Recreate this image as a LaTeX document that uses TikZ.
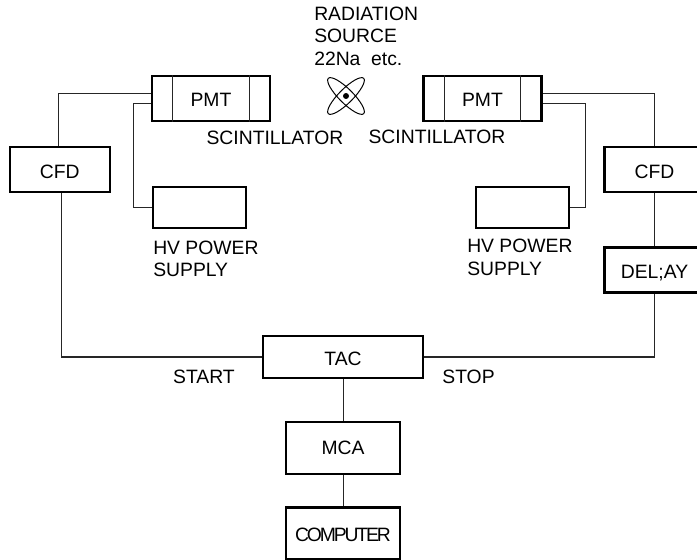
\documentclass[tikz,border=0pt]{standalone}
\usepackage{fontspec}
\setmainfont{Liberation Sans}
\usetikzlibrary{positioning}
\tikzset{
  wire/.style={line width=0.8pt,draw=black!85},
  box/.style={rectangle,draw=black,line width=1.8pt,inner sep=0pt,align=center,
    text height=12.4pt,text depth=0pt,font=\fontsize{14.5}{17}\selectfont},
  tag/.style={inner sep=0pt,align=left,font=\fontsize{14.5}{17}\selectfont},
  pmtbox/.style={box,minimum width=88.5pt,minimum height=33.5pt},
  cfdbox/.style={box,minimum width=75pt,minimum height=33.5pt},
  hvbox/.style={box,minimum width=69.5pt,minimum height=30.5pt},
  lowbox/.style={box,minimum width=85.5pt,minimum height=39pt}
}
\begin{document}
\begin{tikzpicture}[x=0.75pt,y=-0.75pt]
  \useasboundingbox (0,0) rectangle (697,560);
  \node[pmtbox] (pmtl) at (211,98.5) {PMT};
  \node[pmtbox] (pmtr) at (482.5,98.5) {PMT};
  \node[cfdbox,text height=13.4pt] (cfdl) at (59.75,169.5) {CFD};
  \node[cfdbox,text height=13.4pt] (cfdr) at (654.5,169.5) {CFD};
  \node[hvbox] (hvl) at (199.5,207.5) {};
  \node[hvbox] (hvr) at (522.5,207.5) {};
  \node[cfdbox,text height=13.4pt] (delay) at (654.5,270) {DEL;AY};
  \node[box,minimum width=120pt,minimum height=31.5pt] (tac) at (343,357) {TAC};
  \node[lowbox,text height=10.4pt] (mca) at (343,448) {MCA};
  \node[lowbox] (comp) at (343,533.5) {\addfontfeature{LetterSpace=-11}COMPUTER};

  % labels
  \node[tag,anchor=north west] (source) at (314,6.5) {RADIATION\\SOURCE\\22Na\ \ etc.};
  \node[tag] (scl) at (275,138) {SCINTILLATOR};
  \node[tag] (scr) at (437,137) {SCINTILLATOR};
  \node[tag,anchor=north west] (hvtl) at (153,240.5) {HV POWER\\SUPPLY};
  \node[tag,anchor=north west] (hvtr) at (467,239) {HV POWER\\SUPPLY};
  \node[tag] (start) at (204,377) {START};
  \node[tag] (stop) at (468.5,377) {STOP};

  % window lines of the two tubes
  \foreach \n in {pmtl,pmtr} {
    \draw[wire] ([xshift=16.5pt]\n.north west) -- ([xshift=16.5pt]\n.south west);
    \draw[wire] ([xshift=-16.5pt]\n.north east) -- ([xshift=-16.5pt]\n.south east);
  }

  % source
  \draw[line width=0.75pt,rotate around={45:(346,96)}] (346,96) ellipse (25 and 7);
  \draw[line width=0.75pt,rotate around={-45:(346,96)}] (346,96) ellipse (25 and 7);
  \fill (346,96) circle (3);

  % wiring
  \draw[wire] ([yshift=3.4pt]pmtl.west) -| ([xshift=-1pt]cfdl.north);
  \draw[wire] ([yshift=-4pt]pmtl.west) -- ++(-17,0) |- (hvl.west);
  \draw[wire] ([yshift=3.4pt]pmtr.east) -| (cfdr.north);
  \draw[wire] ([yshift=-4pt]pmtr.east) -- ++(43,0) |- (hvr.east);
  \draw[wire] (cfdr) -- (delay);
  \draw[wire] ([xshift=1.3pt]cfdl.south) |- (tac.west);
  \draw[wire] (delay.south) |- (tac.east);
  \draw[wire] ([xshift=0.6pt]tac.south) -- ([xshift=0.6pt]mca.north);
  \draw[wire] ([xshift=0.6pt]mca.south) -- ([xshift=0.6pt]comp.north);
\end{tikzpicture}
\end{document}
